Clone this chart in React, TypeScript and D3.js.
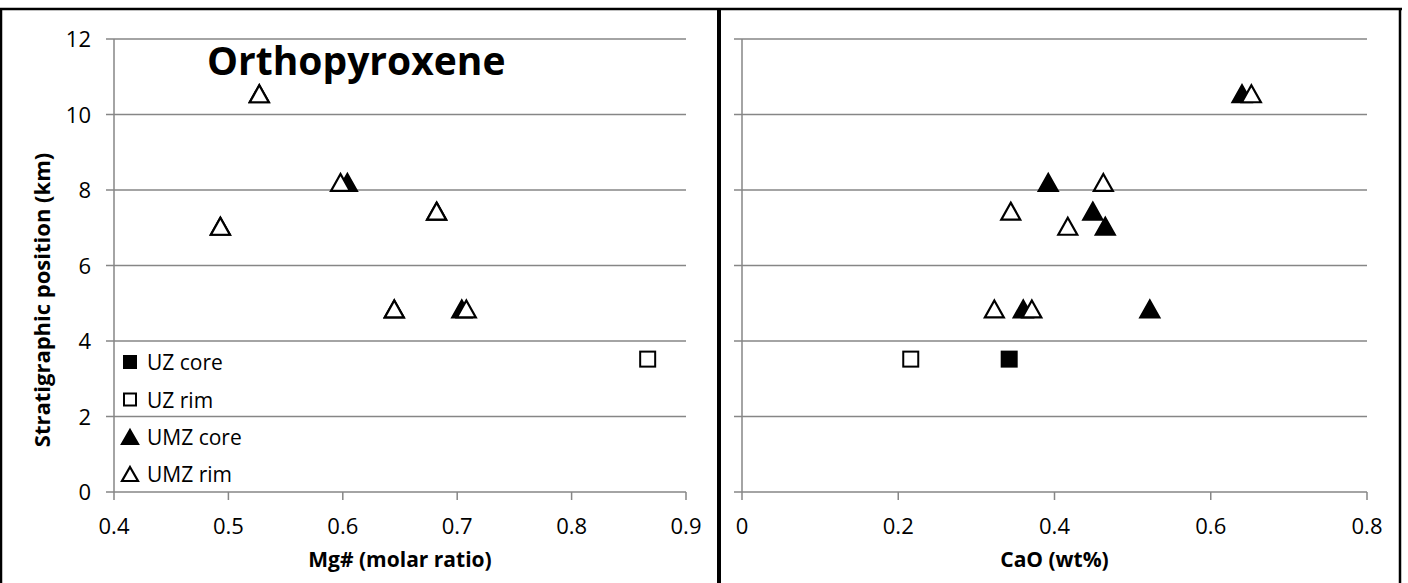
import React from "react";
import * as d3 from "d3";

// ---- data ----
const uzCoreDepth = [3.52];
const uzCoreMg: (number | null)[] = [null];
const uzCoreCaO = [0.342];

const uzRimDepth = [3.52];
const uzRimMg = [0.8665];
const uzRimCaO = [0.216];

const umzCoreDepth = [10.55, 8.2, 7.44, 7.04, 4.85, 4.85];
const umzCoreMg = [0.527, 0.604, 0.682, 0.493, 0.704, 0.645];
const umzCoreCaO = [0.64, 0.392, 0.449, 0.465, 0.36, 0.522];

const umzRimDepth = [10.55, 8.2, 7.44, 7.04, 4.85, 4.85];
const umzRimMg = [0.527, 0.598, 0.682, 0.493, 0.708, 0.645];
const umzRimCaO = [0.652, 0.4625, 0.344, 0.417, 0.371, 0.323];

const yTicks = [0, 2, 4, 6, 8, 10, 12];
const mgTicks = [0.4, 0.5, 0.6, 0.7, 0.8, 0.9];
const caoTicks = [0, 0.2, 0.4, 0.6, 0.8];

const legendLabels = ["UZ core", "UZ rim", "UMZ core", "UMZ rim"];

const FONT = "'Open Sans', sans-serif";
const GRID = "#868686";

type Shape = "square" | "triangle";
type Series = { name: string; shape: Shape; filled: boolean; depth: number[]; vals: (number | null)[] };

function marker(shape: Shape, filled: boolean, x: number, y: number, key: string, small = false) {
  const fill = filled ? "#000" : "#fff";
  if (shape === "square") {
    const s = small ? 12 : 15;
    return <rect key={key} x={x - s / 2} y={y - s / 2} width={s} height={s} fill={fill} stroke="#000" strokeWidth={2} />;
  }
  const hw = small ? 8 : 9.5;
  const hh = small ? 7 : 8.5;
  const p = `M${x},${y - hh}L${x + hw},${y + hh}L${x - hw},${y + hh}Z`;
  return <path key={key} d={p} fill={fill} stroke="#000" strokeWidth={2.2} strokeLinejoin="miter" />;
}

function Panel({
  x0, x1, domain, ticks, fmt, series, xLabel,
}: {
  x0: number; x1: number; domain: [number, number]; ticks: number[]; fmt: (v: number) => string;
  series: Series[]; xLabel: string;
}) {
  const xs = d3.scaleLinear().domain(domain).range([x0, x1]);
  const ys = d3.scaleLinear().domain([0, 12]).range([492, 39]);
  return (
    <g>
      {yTicks.map((t) => (
        <line key={"g" + t} x1={x0 - 8} x2={x1} y1={ys(t)} y2={ys(t)} stroke={GRID} strokeWidth={1.5} />
      ))}
      <line x1={x0} x2={x0} y1={ys(12)} y2={ys(0)} stroke={GRID} strokeWidth={1.5} />
      {ticks.map((t) => (
        <g key={"x" + t}>
          <line x1={xs(t)} x2={xs(t)} y1={ys(0)} y2={ys(0) + 8} stroke={GRID} strokeWidth={1.5} />
          <text x={xs(t)} y={534} textAnchor="middle" fontFamily={FONT} fontSize={22} fill="#000">
            {fmt(t)}
          </text>
        </g>
      ))}
      <text x={(x0 + x1) / 2} y={567} textAnchor="middle" fontFamily={FONT} fontSize={21} fontWeight="bold" fill="#000">
        {xLabel}
      </text>
      {series.map((s, si) =>
        s.vals.map((v, i) =>
          v == null ? null : marker(s.shape, s.filled, xs(v), ys(s.depth[i]), `m${si}-${i}`)
        )
      )}
    </g>
  );
}

export default function App() {
  const ys = d3.scaleLinear().domain([0, 12]).range([492, 39]);
  const leftSeries: Series[] = [
    { name: legendLabels[0], shape: "square", filled: true, depth: uzCoreDepth, vals: uzCoreMg },
    { name: legendLabels[1], shape: "square", filled: false, depth: uzRimDepth, vals: uzRimMg },
    { name: legendLabels[2], shape: "triangle", filled: true, depth: umzCoreDepth, vals: umzCoreMg },
    { name: legendLabels[3], shape: "triangle", filled: false, depth: umzRimDepth, vals: umzRimMg },
  ];
  const rightSeries: Series[] = [
    { name: legendLabels[0], shape: "square", filled: true, depth: uzCoreDepth, vals: uzCoreCaO },
    { name: legendLabels[1], shape: "square", filled: false, depth: uzRimDepth, vals: uzRimCaO },
    { name: legendLabels[2], shape: "triangle", filled: true, depth: umzCoreDepth, vals: umzCoreCaO },
    { name: legendLabels[3], shape: "triangle", filled: false, depth: umzRimDepth, vals: umzRimCaO },
  ];
  const legendY = [362, 399.5, 437, 474];
  return (
    <svg width={1408} height={583} style={{ position: "absolute", left: 0, top: 0, background: "#fff" }}>
      <rect x={0} y={0} width={1408} height={583} fill="#fff" />
      {/* frames */}
      <line x1={0} x2={1402} y1={9} y2={9} stroke="#000" strokeWidth={2.5} />
      <line x1={1} x2={1} y1={8} y2={583} stroke="#000" strokeWidth={2.5} />
      <line x1={1400} x2={1400} y1={8} y2={583} stroke="#000" strokeWidth={2.5} />
      <line x1={719} x2={719} y1={8} y2={583} stroke="#000" strokeWidth={4} />

      <Panel x0={114} x1={686} domain={[0.4, 0.9]} ticks={mgTicks} fmt={(v) => d3.format(".1f")(v)}
        series={leftSeries} xLabel="Mg# (molar ratio)" />
      <Panel x0={742} x1={1367} domain={[0, 0.8]} ticks={caoTicks} fmt={(v) => (v === 0 ? "0" : d3.format(".1f")(v))}
        series={rightSeries} xLabel="CaO (wt%)" />

      {/* y tick labels (left panel only) */}
      {yTicks.map((t) => (
        <text key={"yl" + t} x={91} y={ys(t) + 8} textAnchor="end" fontFamily={FONT} fontSize={22} fill="#000">
          {t}
        </text>
      ))}
      <text transform={`translate(50,300) rotate(-90)`} textAnchor="middle" fontFamily={FONT}
        fontSize={22} fontWeight="bold" fill="#000">
        Stratigraphic position (km)
      </text>

      {/* title */}
      <text x={207} y={75} fontFamily={FONT} fontSize={39} fontWeight="bold" fill="#000">
        Orthopyroxene
      </text>

      {/* legend */}
      {leftSeries.map((s, i) => (
        <g key={"lg" + i}>
          {marker(s.shape, s.filled, 130, legendY[i], "lm" + i, true)}
          <text x={147} y={legendY[i] + 8} fontFamily={FONT} fontSize={21} fill="#000">
            {s.name}
          </text>
        </g>
      ))}
    </svg>
  );
}
